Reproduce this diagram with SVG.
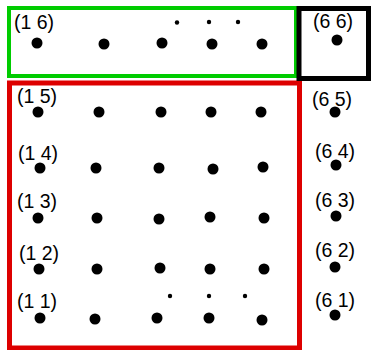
<svg xmlns="http://www.w3.org/2000/svg" width="371" height="350" viewBox="0 0 371 350">
<style>
.lbl{font-family:"Liberation Sans",Arial,sans-serif;font-size:19.5px;fill:#000}
.d{fill:#000}
</style>
<rect width="371" height="350" fill="#fff"/>
<g id="green-box"><rect x="9" y="8" width="287" height="68" fill="none" stroke="#00cc00" stroke-width="4"/></g>
<g id="red-box"><rect x="9.5" y="83" width="290" height="265" fill="none" stroke="#dd0000" stroke-width="5"/></g>
<g id="black-box"><rect x="299" y="8.5" width="69.5" height="70" fill="none" stroke="#000" stroke-width="5"/></g>
<g id="connectors"></g>
<g id="row6">
<text class="lbl" x="14" y="29">(1 6)</text>
<circle class="d" cx="37" cy="43" r="5.5"/>
<circle class="d" cx="104" cy="44" r="5.5"/>
<circle class="d" cx="162" cy="43" r="5.5"/>
<circle class="d" cx="212" cy="44" r="5.5"/>
<circle class="d" cx="262" cy="44" r="5.5"/>
<circle class="d" cx="177" cy="22.5" r="2.2"/>
<circle class="d" cx="209" cy="22" r="2.2"/>
<circle class="d" cx="238" cy="22" r="2.2"/>
</g>
<g id="n66">
<text class="lbl" x="313" y="28">(6 6)</text>
<circle class="d" cx="337" cy="40" r="5.5"/>
</g>
<g id="row5">
<text class="lbl" x="17" y="103">(1 5)</text>
<circle class="d" cx="38" cy="112" r="5.5"/>
<circle class="d" cx="99" cy="112" r="5.5"/>
<circle class="d" cx="161" cy="112" r="5.5"/>
<circle class="d" cx="211" cy="112" r="5.5"/>
<circle class="d" cx="261" cy="112" r="5.5"/>
</g>
<g id="n65">
<text class="lbl" x="312" y="106">(6 5)</text>
<circle class="d" cx="335" cy="112" r="5.5"/>
</g>
<g id="row4">
<text class="lbl" x="18" y="160">(1 4)</text>
<circle class="d" cx="40" cy="168" r="5.5"/>
<circle class="d" cx="96" cy="168" r="5.5"/>
<circle class="d" cx="159" cy="168" r="5.5"/>
<circle class="d" cx="213" cy="169" r="5.5"/>
<circle class="d" cx="263" cy="167" r="5.5"/>
</g>
<g id="n64">
<text class="lbl" x="315" y="158">(6 4)</text>
<circle class="d" cx="336" cy="165" r="5.5"/>
</g>
<g id="row3">
<text class="lbl" x="17" y="208">(1 3)</text>
<circle class="d" cx="38" cy="218" r="5.5"/>
<circle class="d" cx="97" cy="218" r="5.5"/>
<circle class="d" cx="159" cy="219" r="5.5"/>
<circle class="d" cx="210" cy="217" r="5.5"/>
<circle class="d" cx="264" cy="218" r="5.5"/>
</g>
<g id="n63">
<text class="lbl" x="315" y="207">(6 3)</text>
<circle class="d" cx="336" cy="216" r="5.5"/>
</g>
<g id="row2">
<text class="lbl" x="19" y="260">(1 2)</text>
<circle class="d" cx="39" cy="269" r="5.5"/>
<circle class="d" cx="97" cy="269" r="5.5"/>
<circle class="d" cx="160" cy="268" r="5.5"/>
<circle class="d" cx="210" cy="269" r="5.5"/>
<circle class="d" cx="264" cy="269" r="5.5"/>
</g>
<g id="n62">
<text class="lbl" x="315" y="257">(6 2)</text>
<circle class="d" cx="335" cy="267" r="5.5"/>
</g>
<g id="row1">
<text class="lbl" x="17" y="308">(1 1)</text>
<circle class="d" cx="40" cy="318" r="5.5"/>
<circle class="d" cx="95" cy="319" r="5.5"/>
<circle class="d" cx="157" cy="318" r="5.5"/>
<circle class="d" cx="209" cy="318" r="5.5"/>
<circle class="d" cx="262" cy="320" r="5.5"/>
<circle class="d" cx="170" cy="296" r="2.2"/>
<circle class="d" cx="209" cy="296" r="2.2"/>
<circle class="d" cx="245" cy="296" r="2.2"/>
</g>
<g id="n61">
<text class="lbl" x="315" y="307">(6 1)</text>
<circle class="d" cx="335" cy="315" r="5.5"/>
</g>
</svg>
